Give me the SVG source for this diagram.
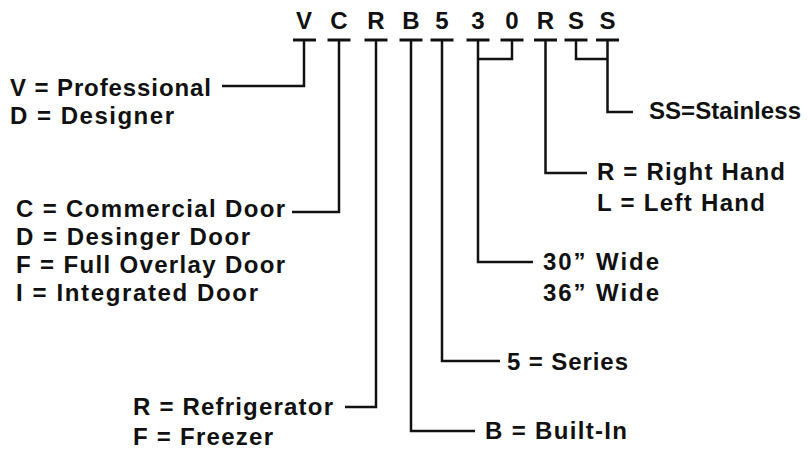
<svg xmlns="http://www.w3.org/2000/svg" width="808" height="451" viewBox="0 0 808 451">
<style>
.code{font-family:"Liberation Sans",Arial,sans-serif;font-weight:bold;font-size:24px;fill:#111;text-anchor:middle}
.lbl{font-family:"Liberation Sans",Arial,sans-serif;font-weight:bold;font-size:24px;fill:#111}
.bar{stroke:#111;stroke-width:3;fill:none}
.ln{stroke:#111;stroke-width:2.5;fill:none;stroke-linejoin:miter;stroke-linecap:butt}
</style>
<rect width="808" height="451" fill="#fff"/>
<g id="code">
<text class="code" x="304" y="29">V</text>
<text class="code" x="339" y="29">C</text>
<text class="code" x="376" y="29">R</text>
<text class="code" x="411" y="29">B</text>
<text class="code" x="442" y="29">5</text>
<text class="code" x="478" y="29">3</text>
<text class="code" x="512" y="29">0</text>
<text class="code" x="545.5" y="29">R</text>
<text class="code" x="576" y="29">S</text>
<text class="code" x="607.5" y="29">S</text>
</g>
<g id="connectors">
<line class="bar" x1="293" y1="40" x2="316" y2="40"/>
<line class="bar" x1="327.5" y1="40" x2="350.5" y2="40"/>
<line class="bar" x1="364.5" y1="40" x2="387.5" y2="40"/>
<line class="bar" x1="399.5" y1="40" x2="422.5" y2="40"/>
<line class="bar" x1="430.5" y1="40" x2="453.5" y2="40"/>
<line class="bar" x1="466.5" y1="40" x2="489.5" y2="40"/>
<line class="bar" x1="500.5" y1="40" x2="523.5" y2="40"/>
<line class="bar" x1="534" y1="40" x2="557" y2="40"/>
<line class="bar" x1="564.5" y1="40" x2="587.5" y2="40"/>
<line class="bar" x1="596" y1="40" x2="619" y2="40"/>
<polyline class="ln" points="304,40 304,86 222,86"/>
<polyline class="ln" points="339,40 339,212 292,212"/>
<polyline class="ln" points="376,40 376,407 345,407"/>
<polyline class="ln" points="411,40 411,431 475,431"/>
<polyline class="ln" points="442,40 442,361 500,361"/>
<polyline class="ln" points="512,40 512,59 478,59"/>
<polyline class="ln" points="478,40 478,262 533,262"/>
<polyline class="ln" points="545.5,40 545.5,173 587,173"/>
<polyline class="ln" points="576,40 576,59 607.5,59"/>
<polyline class="ln" points="607.5,40 607.5,112 633,112"/>
</g>
<g id="line-type">
<text class="lbl" x="10" y="96" textLength="201" lengthAdjust="spacing">V = Professional</text>
<text class="lbl" x="10" y="124" textLength="164" lengthAdjust="spacing">D = Designer</text>
</g>
<g id="door">
<text class="lbl" x="16" y="217" textLength="269" lengthAdjust="spacing">C = Commercial Door</text>
<text class="lbl" x="16" y="245" textLength="234" lengthAdjust="spacing">D = Desinger Door</text>
<text class="lbl" x="16" y="273" textLength="269" lengthAdjust="spacing">F = Full Overlay Door</text>
<text class="lbl" x="16" y="301" textLength="242" lengthAdjust="spacing">I = Integrated Door</text>
</g>
<g id="type">
<text class="lbl" x="133" y="415" textLength="200" lengthAdjust="spacing">R = Refrigerator</text>
<text class="lbl" x="133" y="445" textLength="140" lengthAdjust="spacing">F = Freezer</text>
</g>
<g id="install">
<text class="lbl" x="485" y="439" textLength="142" lengthAdjust="spacing">B = Built-In</text>
</g>
<g id="series">
<text class="lbl" x="507" y="370" textLength="121" lengthAdjust="spacing">5 = Series</text>
</g>
<g id="width">
<text class="lbl" x="543" y="270" textLength="116" lengthAdjust="spacing">30” Wide</text>
<text class="lbl" x="543" y="301" textLength="116" lengthAdjust="spacing">36” Wide</text>
</g>
<g id="hinge">
<text class="lbl" x="597" y="180" textLength="188" lengthAdjust="spacing">R = Right Hand</text>
<text class="lbl" x="597" y="211" textLength="168" lengthAdjust="spacing">L = Left Hand</text>
</g>
<g id="finish">
<text class="lbl" x="649" y="119" textLength="152" lengthAdjust="spacing">SS=Stainless</text>
</g>
</svg>
